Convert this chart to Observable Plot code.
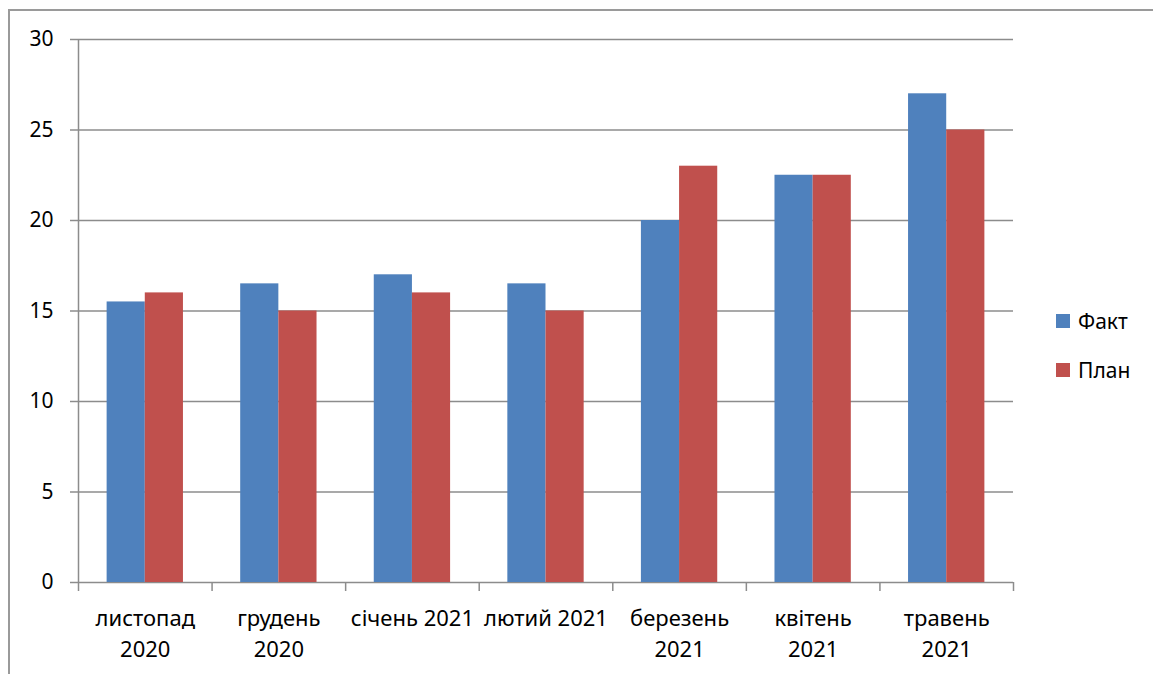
<!DOCTYPE html>
<html>
<head>
<meta charset="utf-8">
<script src="https://cdn.jsdelivr.net/npm/d3@7"></script>
<script src="https://cdn.jsdelivr.net/npm/@observablehq/plot@0.6"></script>
<style>
  html, body { margin: 0; padding: 0; background: #fff; overflow: hidden; }
  #wrap { position: relative; width: 1153px; height: 674px; overflow: hidden; font-family: "Noto Sans", sans-serif; }
  #frame { position: absolute; left: 8px; top: 9px; width: 1250px; height: 760px; border: 2px solid #9a9a9a; box-sizing: border-box; }
  #chart { position: absolute; left: 0; top: 0; }
  #legend { position: absolute; left: 1056px; top: 307px; font-size: 21px; color: #000; }
  #legend .item { display: flex; align-items: center; height: 28px; margin-bottom: 21px; }
  #legend .sw { width: 14px; height: 14px; margin-right: 8px; }
</style>
</head>
<body>
<div id="wrap">
  <div id="frame"></div>
  <div id="chart"></div>
  <div id="legend"></div>
</div>
<script>
// ---- data ----
const months = ["листопад 2020", "грудень 2020", "січень 2021", "лютий 2021", "березень 2021", "квітень 2021", "травень 2021"];
const tickLabels = ["листопад\n2020", "грудень\n2020", "січень 2021", "лютий 2021", "березень\n2021", "квітень\n2021", "травень\n2021"];
const series = ["Факт", "План"];
const fakt = [15.5, 16.5, 17, 16.5, 20, 22.5, 27];
const plan = [16, 15, 16, 15, 23, 22.5, 25];
const yTicks = [0, 5, 10, 15, 20, 25, 30];
const colors = ["#4F81BD", "#C0504D"];

// ---- layout (Excel-style clustered columns, gap width 150%) ----
const n = months.length;
const gapWidth = 1.5;
const barW = 1 / (series.length + gapWidth);
const off = gapWidth * barW / 2;
const values = [fakt, plan];
const rows = months.flatMap((m, i) => series.map((s, k) => ({
  month: m, series: s, value: values[k][i],
  x1: i + off + k * barW, x2: i + off + (k + 1) * barW
})));

const lineColor = "#8c8c8c";

const chart = Plot.plot({
  width: 1153,
  height: 674,
  marginLeft: 78,
  marginRight: 140,
  marginTop: 39,
  marginBottom: 92,
  style: { fontFamily: '"Noto Sans", sans-serif', fontSize: "21px", color: "#000", background: "transparent" },
  x: { type: "linear", domain: [0, n], axis: null },
  y: { domain: [0, 30], axis: null },
  color: { domain: series, range: colors },
  marks: [
    Plot.ruleY(yTicks, { y: d => d, x1: 0, x2: n, stroke: lineColor, strokeWidth: 1.5 }),
    Plot.rect(rows, { x1: "x1", x2: "x2", y1: 0, y2: "value", fill: "series" }),
    Plot.ruleX([0], { y1: 0, y2: 30, stroke: lineColor, strokeWidth: 1.5 }),
    Plot.axisY({ ticks: yTicks, tickSize: 8, tickPadding: 17, label: null, stroke: lineColor, strokeWidth: 1.5, fill: "#000", fontSize: 21 }),
    Plot.axisX({ ticks: d3.range(n + 1), tickSize: 9, tickFormat: () => "", label: null, stroke: lineColor, strokeWidth: 1.5 }),
    Plot.text(tickLabels, { x: (d, i) => i + 0.5, y: 0, text: d => d, dy: 22, lineAnchor: "top", lineHeight: 1.4, fontSize: 22, fill: "#000" })
  ]
});
document.getElementById("chart").appendChild(chart);

// ---- legend ----
const legend = document.getElementById("legend");
series.forEach((s, k) => {
  const item = document.createElement("div");
  item.className = "item";
  const sw = document.createElement("span");
  sw.className = "sw";
  sw.style.background = colors[k];
  const t = document.createElement("span");
  t.textContent = s;
  item.appendChild(sw);
  item.appendChild(t);
  legend.appendChild(item);
});
</script>
</body>
</html>
